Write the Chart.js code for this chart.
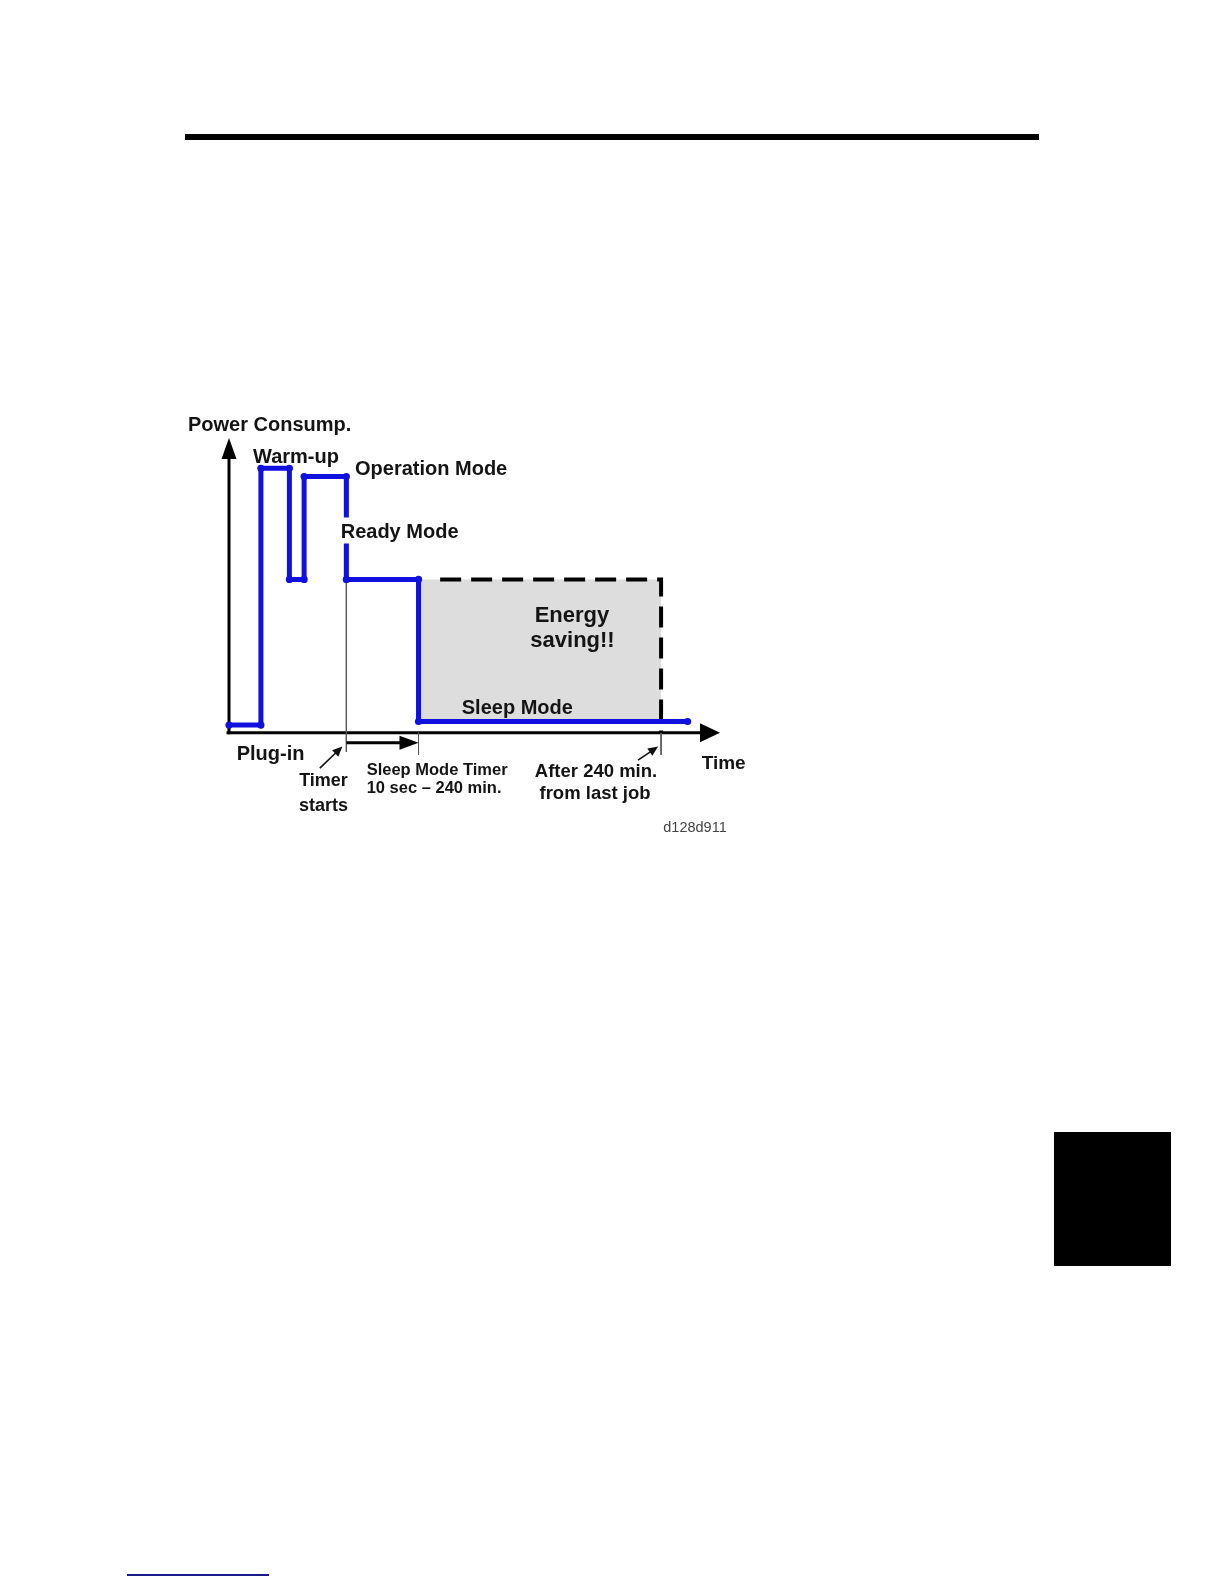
<!DOCTYPE html>
<html>
<head>
<meta charset="utf-8">
<script src="https://cdn.jsdelivr.net/npm/chart.js@4.4.1/dist/chart.umd.min.js"></script>
<style>
  html, body { margin: 0; padding: 0; background: #ffffff; }
  body { width: 1224px; height: 1584px; position: relative; overflow: hidden; }
  #rule { position: absolute; left: 185px; top: 134px; width: 854px; height: 6px; background: #000; }
  #tab { position: absolute; left: 1054px; top: 1132px; width: 117px; height: 134px; background: #000; }
  #link { position: absolute; left: 127px; top: 1574px; width: 142px; height: 2px; background: #1a1a8c; }
  #wrap { position: absolute; left: 180px; top: 400px; width: 580px; height: 450px; }
</style>
</head>
<body>
<div id="rule"></div>
<div id="tab"></div>
<div id="link"></div>
<div id="wrap"><canvas id="c" width="580" height="450"></canvas></div>
<script>
// ---- data (time in arbitrary units 0..100, power in arbitrary units 0..100) ----
const timeSteps  = [0, 6.5, 6.5, 12.3, 12.3, 15.3, 15.3, 23.9, 23.9, 38.6, 38.6, 93.4];
const powerSteps = [2.6, 2.6, 89.7, 89.7, 52, 52, 86.9, 86.9, 52, 52, 3.8, 3.8];

const savingTimes = [38.6, 88];
const savingLevel = 52;
const sleepLevel = 3.8;

const dashTimes  = [43, 88, 88];
const dashPowers = [52, 52, 0];

const guideTimes   = [23.9, 38.6, 88];
const guideTops    = [52, 0, 0];
const guideBottoms = [-6.5, -7.5, -7.5];

const timerSpan = [23.9, 38.6];
const timerLevel = -3.4;

const pointerFrom = [[18.5, -12], [83.3, -9.3]];
const pointerTo   = [[23.1, -4.7], [87.4, -4.7]];

const axisRange = [0, 100];

// ---- annotations (text) ----
const labelTexts = ['Power Consump.', 'Warm-up', 'Operation Mode', 'Ready Mode', 'Energy', 'saving!!',
  'Sleep Mode', 'Plug-in', 'Timer', 'starts', 'Sleep Mode Timer', '10 sec \u2013 240 min.',
  'After 240 min.', 'from last job', 'Time', 'd128d911'];
const labelX = [-8.35, 4.89, 25.66, 22.75, 69.85, 69.96, 47.4, 1.57, 19.25, 19.25, 28.04, 28.04, 74.75, 74.54, 96.27, 88.45];
const labelY = [102.5, 91.5, 87.3, 65.9, 37.55, 29.25, 6.5, -9.26, -18.25, -26.4, -14.52, -20.63, -15.03, -22.33, -12.15, -33.7];
const labelStyle = [
  {s:20,a:'left'},{s:20,a:'left'},{s:20,a:'left'},{s:20,a:'left',bg:true},{s:22,a:'center'},{s:22,a:'center'},
  {s:20,a:'left'},{s:20,a:'left'},{s:18,a:'center'},{s:18,a:'center'},{s:16.5,a:'left'},{s:16.5,a:'left'},
  {s:18.5,a:'center'},{s:18.5,a:'center'},{s:19,a:'left'},{s:14.5,a:'left',w:'normal',c:'#444'}
];

const BLUE = '#1010df';
const FONT = "'Liberation Sans', Arial, Helvetica, sans-serif";

function zip(xs, ys) { return xs.map((x, i) => ({x: x, y: ys[i]})); }

const datasets = [];
datasets.push({
  label: 'power', data: zip(timeSteps, powerSteps), showLine: true,
  borderColor: BLUE, borderWidth: 5, borderJoinStyle: 'miter', borderCapStyle: 'butt',
  pointRadius: 3.6, pointBackgroundColor: BLUE, pointBorderWidth: 0, pointHoverRadius: 3.6,
  clip: false, order: 1
});
datasets.push({
  label: 'saving', data: zip(savingTimes, savingTimes.map(() => savingLevel)), showLine: true,
  borderWidth: 0, borderColor: 'rgba(0,0,0,0)', backgroundColor: '#dddddd',
  fill: {value: sleepLevel}, pointRadius: 0, clip: false, order: 9
});
datasets.push({
  label: 'dashed', data: zip(dashTimes, dashPowers), showLine: true,
  borderColor: '#000', borderWidth: 4, borderDash: [21, 10], borderJoinStyle: 'miter', borderCapStyle: 'butt',
  pointRadius: 0, clip: false, order: 4
});
guideTimes.forEach((t, i) => {
  datasets.push({
    label: 'guide' + i, data: [{x: t, y: guideTops[i]}, {x: t, y: guideBottoms[i]}], showLine: true,
    borderColor: '#555', borderWidth: 1, pointRadius: 0, clip: false, order: 6
  });
});

function arrowHead(ctx, x1, y1, x2, y2, len, half) {
  const ang = Math.atan2(y2 - y1, x2 - x1);
  ctx.beginPath();
  ctx.moveTo(x2, y2);
  ctx.lineTo(x2 - len * Math.cos(ang) + half * Math.sin(ang), y2 - len * Math.sin(ang) - half * Math.cos(ang));
  ctx.lineTo(x2 - len * Math.cos(ang) - half * Math.sin(ang), y2 - len * Math.sin(ang) + half * Math.cos(ang));
  ctx.closePath();
  ctx.fill();
}
function arrow(ctx, x1, y1, x2, y2, width, len, half) {
  const ang = Math.atan2(y2 - y1, x2 - x1);
  ctx.lineWidth = width;
  ctx.beginPath();
  ctx.moveTo(x1, y1);
  ctx.lineTo(x2 - (len - 1) * Math.cos(ang), y2 - (len - 1) * Math.sin(ang));
  ctx.stroke();
  arrowHead(ctx, x1, y1, x2, y2, len, half);
}

const decor = {
  id: 'decor',
  beforeDatasetsDraw(chart) {
    const ctx = chart.ctx, xs = chart.scales.x, ys = chart.scales.y;
    ctx.save();
    ctx.fillStyle = '#000'; ctx.strokeStyle = '#000';
    const ox = xs.getPixelForValue(axisRange[0]), oy = ys.getPixelForValue(axisRange[0]);
    // y axis
    arrow(ctx, ox, oy + 1.5, ox, ys.getPixelForValue(axisRange[1]), 3, 21, 7.5);
    // x axis
    arrow(ctx, ox - 2.5, oy, xs.getPixelForValue(axisRange[1]), oy, 3, 20, 9.5);
    ctx.restore();
  },
  afterDatasetsDraw(chart) {
    const ctx = chart.ctx, xs = chart.scales.x, ys = chart.scales.y;
    ctx.save();
    ctx.fillStyle = '#000'; ctx.strokeStyle = '#000';
    // sleep mode timer arrow
    const ty = ys.getPixelForValue(timerLevel);
    arrow(ctx, xs.getPixelForValue(timerSpan[0]), ty, xs.getPixelForValue(timerSpan[1]), ty, 3, 19, 7);
    // pointer arrows
    ctx.fillStyle = '#111'; ctx.strokeStyle = '#111';
    pointerFrom.forEach((p, i) => {
      const q = pointerTo[i];
      arrow(ctx, xs.getPixelForValue(p[0]), ys.getPixelForValue(p[1]),
        xs.getPixelForValue(q[0]), ys.getPixelForValue(q[1]), 1.6, 10, 4.5);
    });
    // labels
    ctx.textBaseline = 'alphabetic';
    labelTexts.forEach((t, i) => {
      const st = labelStyle[i];
      ctx.font = (st.w || 'bold') + ' ' + st.s + 'px ' + FONT;
      ctx.textAlign = st.a;
      const px = xs.getPixelForValue(labelX[i]), py = ys.getPixelForValue(labelY[i]);
      if (st.bg) {
        const w = ctx.measureText(t).width;
        const left = st.a === 'center' ? px - w / 2 : px;
        ctx.fillStyle = '#ffffff';
        ctx.fillRect(left - 3, py - 21, w + 6, 26);
      }
      ctx.fillStyle = st.c || '#141414';
      ctx.fillText(t, px, py);
    });
    ctx.restore();
  }
};

new Chart(document.getElementById('c'), {
  type: 'scatter',
  data: { datasets: datasets },
  options: {
    responsive: false,
    animation: false,
    devicePixelRatio: 1,
    layout: { padding: { left: 49, top: 38, right: 40, bottom: 117.3 } },
    scales: {
      x: { type: 'linear', min: axisRange[0], max: axisRange[1], display: false },
      y: { type: 'linear', min: axisRange[0], max: axisRange[1], display: false }
    },
    plugins: { legend: { display: false }, tooltip: { enabled: false } },
    events: []
  },
  plugins: [decor]
});
</script>
</body>
</html>
